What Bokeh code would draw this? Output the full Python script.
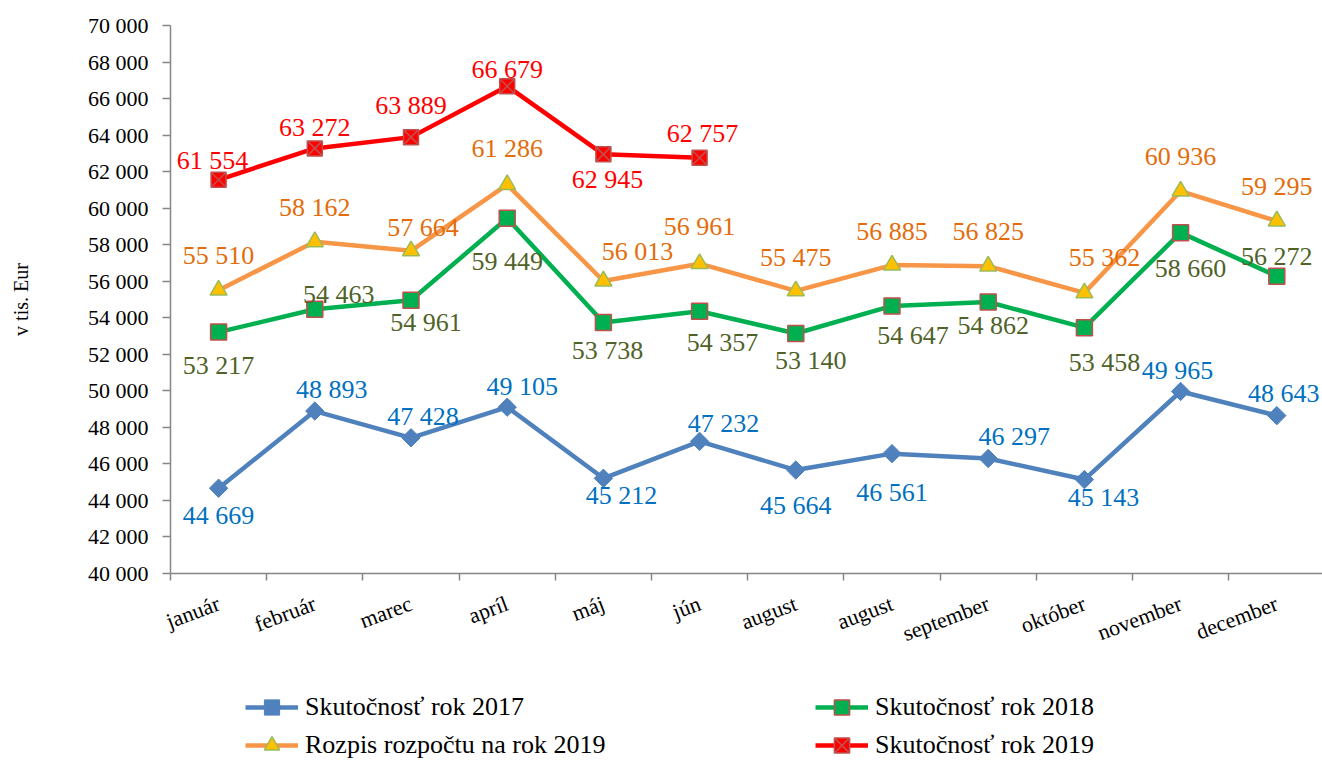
import math
from bokeh.plotting import figure
from bokeh.models import Range1d, FixedTicker, Legend, LegendItem, ColumnDataSource, Label
from bokeh.core.properties import value
from bokeh.embed import file_html
from bokeh.resources import INLINE

months = ["január", "február", "marec", "apríl", "máj", "jún", "august", "august",
          "september", "október", "november", "december"]
s2017 = [44669, 48893, 47428, 49105, 45212, 47232, 45664, 46561, 46297, 45143, 49965, 48643]
s2018 = [53217, 54463, 54961, 59449, 53738, 54357, 53140, 54647, 54862, 53458, 58660, 56272]
rozpis2019 = [55510, 58162, 57664, 61286, 56013, 56961, 55475, 56885, 56825, 55362, 60936, 59295]
s2019 = [61554, 63272, 63889, 66679, 62945, 62757]
yticks = list(range(40000, 70001, 2000))

names = ["Skutočnosť rok 2017", "Skutočnosť rok 2018", "Rozpis rozpočtu na rok 2019", "Skutočnosť rok 2019"]

# label placement (pixel offsets: dx right, dy down)
off2017 = [(0, 27), (17, -22), (12, -21), (15, -21), (18, 17), (24, -18), (0, 35), (0, 39),
           (26, -22), (19, 18), (-3, -21), (7, -22)]
off2018 = [(0, 33), (24, -15), (15, 22), (0, 43), (4, 28), (23, 31), (15, 27), (21, 30),
           (5, 23), (20, 35), (10, 36), (0, -20)]
offR = [(0, -35), (0, -34), (12, -23), (0, -36), (34, -29), (0, -37), (0, -33), (0, -34),
        (0, -35), (20, -35), (0, -35), (0, -35)]
off2019 = [(-6, -19), (0, -21), (0, -32), (0, -17), (4, 25), (3, -24)]

FONT = "Liberation Serif"
AX = "#868686"

W, H = 1322, 764
LEFT, TOP, PLOT_H = 170, 25, 548      # axis corner position and value-axis height (px)
PX = 96.2                              # px per month slot
Y0, Y1 = 40000, 70000
upp = (Y1 - Y0) / PLOT_H               # value units per px

# The frame spans the whole canvas; the axes sit at fixed locations inside it.
p = figure(width=W, height=H, output_backend="svg", toolbar_location=None,
           x_range=Range1d(-LEFT / PX, (W - LEFT) / PX),
           y_range=Range1d(Y0 - (H - TOP - PLOT_H) * upp, Y1 + TOP * upp),
           min_border_left=0, min_border_top=0, min_border_bottom=0, min_border_right=0)
p.outline_line_color = None
p.xgrid.grid_line_color = None
p.ygrid.grid_line_color = None

def fmt(v):
    return f"{v:,}".replace(",", " ")

# y axis
p.yaxis.fixed_location = 0
p.yaxis.bounds = (Y0, Y1)
p.yaxis.ticker = FixedTicker(ticks=yticks, minor_ticks=[])
p.yaxis.major_label_overrides = {v: fmt(v) for v in yticks}
p.yaxis.axis_line_color = AX
p.yaxis.axis_line_width = 1.5
p.yaxis.major_tick_line_color = AX
p.yaxis.major_tick_line_width = 1.5
p.yaxis.major_tick_out = 8
p.yaxis.major_tick_in = 0
p.yaxis.minor_tick_line_color = None
p.yaxis.major_label_standoff = 14
p.yaxis.major_label_text_font = FONT
p.yaxis.major_label_text_font_size = "22px"
p.yaxis.major_label_text_color = "#000000"

p.add_layout(Label(x=20, y=(Y0 + Y1) / 2, x_units="screen", y_units="data", text="v tis. Eur",
                   angle=math.pi / 2, text_align="center", text_baseline="middle",
                   text_font=FONT, text_font_size="20px", text_color="#000000"))

# x axis (placed at y = 40 000 inside the frame)
xc = [i + 0.5 for i in range(len(months))]
p.xaxis.fixed_location = Y0
p.xaxis.bounds = (0, (W - LEFT) / PX)
p.xaxis.ticker = FixedTicker(ticks=xc, minor_ticks=list(range(0, 13)))
p.xaxis.major_label_overrides = {x: m for x, m in zip(xc, months)}
p.xaxis.axis_line_color = AX
p.xaxis.axis_line_width = 1.5
p.xaxis.major_tick_line_color = None
p.xaxis.minor_tick_line_color = AX
p.xaxis.minor_tick_line_width = 1.5
p.xaxis.minor_tick_out = 7
p.xaxis.minor_tick_in = 0
p.xaxis.major_label_orientation = 0.36
p.xaxis.major_label_standoff = 22
p.xaxis.major_label_text_font = FONT
p.xaxis.major_label_text_font_size = "22px"
p.xaxis.major_label_text_color = "#000000"

def add_labels(xs, ys, offs, color):
    src = ColumnDataSource(dict(x=xs, y=ys, t=[fmt(v) for v in ys],
                                dx=[o[0] for o in offs], dy=[o[1] for o in offs]))
    p.text("x", "y", text="t", x_offset="dx", y_offset="dy", source=src,
           text_font=value(FONT), text_font_size="26px", text_color=color,
           text_align="center", text_baseline="middle")

# 2017
l1 = p.line(xc, s2017, line_color="#4F81BD", line_width=4.5)
m1 = p.scatter(xc, s2017, marker="square", angle=math.pi / 4, size=13,
               fill_color="#4F81BD", line_color="#4F81BD")
add_labels(xc, s2017, off2017, "#0070C0")
# 2018
l2 = p.line(xc, s2018, line_color="#00B050", line_width=4.5)
m2 = p.scatter(xc, s2018, marker="square", size=16, fill_color="#00B050", line_color="#C0504D", line_width=1.5)
add_labels(xc, s2018, off2018, "#4F6228")
# rozpis 2019
l3 = p.line(xc, rozpis2019, line_color="#F79646", line_width=4.5)
m3 = p.scatter(xc, rozpis2019, marker="triangle", size=17, fill_color="#FFC000", line_color="#9BBB59", line_width=1.5)
add_labels(xc, rozpis2019, offR, "#E46C0A")
# 2019
x19 = xc[:len(s2019)]
l4 = p.line(x19, s2019, line_color="#FF0000", line_width=4.5)
m4 = p.scatter(x19, s2019, marker="square_x", size=15, fill_color="#FF0000", line_color="#C0504D", line_width=1.5)
add_labels(x19, s2019, off2019, "#FF0000")

legend = Legend(items=[LegendItem(label=names[0], renderers=[l1, m1]),
                       LegendItem(label=names[1], renderers=[l2, m2]),
                       LegendItem(label=names[2], renderers=[l3, m3]),
                       LegendItem(label=names[3], renderers=[l4, m4])],
                orientation="horizontal", nrows=2, location=(245, 0),
                glyph_width=53, glyph_height=38, label_height=38, label_width=510, spacing=0,
                label_standoff=7, padding=0, margin=0,
                label_text_font=FONT, label_text_font_size="26px", label_text_color="#000000",
                border_line_color=None, background_fill_alpha=0)
p.add_layout(legend, "center")

open("out.html", "w").write(file_html(p, INLINE))
